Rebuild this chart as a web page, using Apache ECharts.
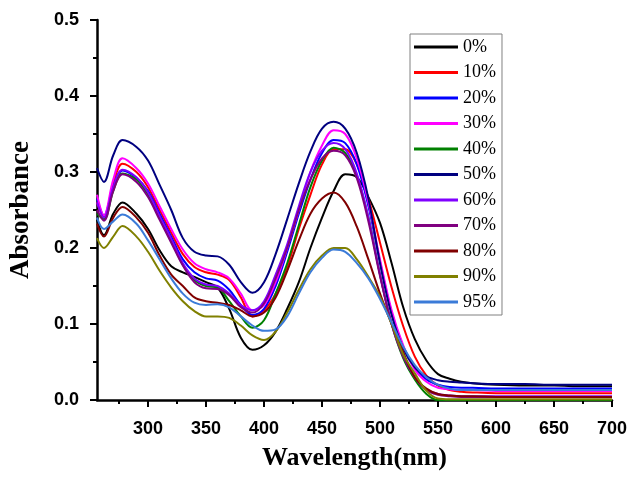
<!DOCTYPE html>
<html>
<head>
<meta charset="utf-8">
<script src="https://cdn.jsdelivr.net/npm/echarts@6/dist/echarts.min.js"></script>
<style>
html,body{margin:0;padding:0;background:#fff;}
#chart{width:630px;height:478px;}
</style>
</head>
<body>
<div id="chart"></div>
<script>
const wavelengths = [256, 262, 270, 278, 290, 300, 310, 320, 330, 340, 350, 360, 370, 380, 390, 400, 410, 420, 430, 440, 450, 460, 470, 480, 490, 500, 510, 520, 530, 540, 550, 560, 570, 580, 600, 625, 650, 675, 700];

const seriesNames = ['0%', '10%', '20%', '30%', '40%', '50%', '60%', '70%', '80%', '90%', '95%'];

const abs0 = [0.237,0.217,0.245,0.260,0.245,0.225,0.197,0.176,0.168,0.162,0.155,0.148,0.120,0.082,0.066,0.072,0.090,0.120,0.155,0.200,0.240,0.275,0.297,0.293,0.267,0.233,0.180,0.122,0.080,0.052,0.034,0.028,0.024,0.022,0.020,0.019,0.019,0.018,0.018];
const abs10 = [0.260,0.240,0.285,0.311,0.300,0.280,0.250,0.220,0.192,0.175,0.168,0.165,0.158,0.135,0.110,0.118,0.140,0.175,0.225,0.270,0.310,0.330,0.330,0.310,0.265,0.207,0.148,0.097,0.057,0.032,0.019,0.013,0.011,0.010,0.009,0.009,0.009,0.009,0.009];
const abs20 = [0.265,0.243,0.280,0.302,0.292,0.275,0.245,0.215,0.185,0.168,0.160,0.157,0.145,0.125,0.112,0.120,0.150,0.195,0.245,0.290,0.325,0.342,0.338,0.310,0.255,0.182,0.115,0.070,0.042,0.027,0.020,0.017,0.016,0.016,0.015,0.015,0.015,0.015,0.015];
const abs30 = [0.270,0.243,0.290,0.318,0.305,0.285,0.255,0.225,0.198,0.180,0.172,0.168,0.160,0.140,0.118,0.125,0.155,0.200,0.250,0.300,0.335,0.355,0.350,0.318,0.260,0.185,0.118,0.072,0.040,0.024,0.016,0.014,0.013,0.013,0.012,0.012,0.012,0.012,0.012];
const abs40 = [0.245,0.238,0.275,0.298,0.290,0.270,0.240,0.210,0.178,0.158,0.150,0.148,0.130,0.110,0.095,0.105,0.140,0.180,0.230,0.280,0.315,0.332,0.325,0.295,0.240,0.165,0.100,0.055,0.027,0.008,0.000,0.000,0.000,0.000,0.000,0.000,0.000,0.000,0.000];
const abs50 = [0.305,0.287,0.322,0.342,0.333,0.315,0.283,0.250,0.213,0.195,0.190,0.189,0.178,0.155,0.141,0.155,0.192,0.238,0.285,0.327,0.357,0.366,0.357,0.325,0.265,0.180,0.112,0.068,0.043,0.031,0.026,0.024,0.023,0.022,0.021,0.021,0.020,0.020,0.020];
const abs60 = [0.260,0.240,0.280,0.303,0.293,0.273,0.242,0.212,0.180,0.160,0.152,0.150,0.140,0.125,0.118,0.130,0.165,0.205,0.255,0.300,0.328,0.338,0.330,0.298,0.240,0.165,0.100,0.058,0.030,0.014,0.008,0.006,0.005,0.005,0.005,0.005,0.005,0.005,0.005];
const abs70 = [0.250,0.236,0.275,0.297,0.287,0.267,0.237,0.207,0.177,0.155,0.147,0.146,0.138,0.122,0.115,0.127,0.160,0.200,0.250,0.290,0.318,0.328,0.322,0.292,0.235,0.163,0.100,0.057,0.030,0.013,0.007,0.005,0.004,0.004,0.004,0.004,0.004,0.004,0.004];
const abs80 = [0.232,0.215,0.240,0.254,0.240,0.220,0.190,0.165,0.150,0.135,0.130,0.128,0.125,0.118,0.110,0.115,0.135,0.170,0.210,0.245,0.265,0.273,0.260,0.228,0.185,0.140,0.100,0.063,0.030,0.015,0.008,0.006,0.005,0.005,0.004,0.004,0.004,0.004,0.004];
const abs90 = [0.213,0.200,0.215,0.229,0.215,0.195,0.170,0.148,0.130,0.117,0.110,0.110,0.108,0.098,0.085,0.079,0.090,0.115,0.145,0.172,0.190,0.200,0.200,0.185,0.162,0.136,0.100,0.060,0.035,0.012,0.002,0.001,0.001,0.001,0.001,0.001,0.001,0.001,0.001];
const abs95 = [0.240,0.225,0.235,0.244,0.232,0.210,0.185,0.160,0.140,0.128,0.125,0.126,0.122,0.110,0.098,0.091,0.093,0.110,0.140,0.168,0.187,0.198,0.195,0.180,0.160,0.133,0.102,0.070,0.046,0.030,0.020,0.015,0.013,0.013,0.013,0.013,0.013,0.013,0.013];

const xMajorTicks = [300, 350, 400, 450, 500, 550, 600, 650, 700];
const xMinorTicks = [275, 325, 375, 425, 475, 525, 575, 625, 675];

const allValues = [abs0, abs10, abs20, abs30, abs40, abs50, abs60, abs70, abs80, abs90, abs95];
const colors = ['#000000', '#ff0000', '#0000ff', '#ff00ff', '#008000', '#000080', '#8000ff', '#800080', '#800000', '#808000', '#3b7bd8'];

const chart = echarts.init(document.getElementById('chart'), null, {renderer: 'canvas'});

const series = seriesNames.map((name, k) => ({
  name: name,
  type: 'line',
  xAxisIndex: 0,
  yAxisIndex: 0,
  data: wavelengths.map((w, i) => [w, allValues[k][i]]),
  showSymbol: false,
  symbol: 'none',
  smooth: 0.35,
  color: colors[k],
  lineStyle: {width: 2, color: colors[k]},
  itemStyle: {color: colors[k]},
  silent: true
}));

const option = {
  animation: false,
  backgroundColor: '#ffffff',
  grid: {left: 97, right: 18, top: 20, bottom: 78, containLabel: false, outerBoundsMode: 'none'},
  legend: {
    orient: 'vertical',
    left: 410,
    top: 34,
    data: seriesNames,
    icon: 'rect',
    itemWidth: 44,
    itemHeight: 3,
    itemGap: 7.5,
    padding: [4, 6, 4, 4],
    borderColor: '#808080',
    borderWidth: 1,
    selectedMode: false,
    textStyle: {fontFamily: '"Liberation Serif", "Times New Roman", serif', fontSize: 18, color: '#000', lineHeight: 16}
  },
  xAxis: [{
    type: 'value',
    min: 256,
    max: 700,
    position: 'bottom',
    name: 'Wavelength(nm)',
    nameLocation: 'middle',
    nameGap: 45,
    nameTextStyle: {fontFamily: '"Liberation Serif", "Times New Roman", serif', fontWeight: 'bold', fontSize: 26, color: '#000'},
    axisLine: {show: true, onZero: false, lineStyle: {color: '#000', width: 2.5}},
    axisTick: {show: true, length: 7, inside: false, customValues: xMajorTicks, lineStyle: {color: '#000', width: 2}},
    axisLabel: {show: true, customValues: xMajorTicks, margin: 20, fontFamily: '"Liberation Sans", Arial, sans-serif', fontWeight: 'bold', fontSize: 18, color: '#000'},
    splitLine: {show: false}
  }, {
    type: 'value',
    min: 256,
    max: 700,
    position: 'bottom',
    offset: 0,
    axisLine: {show: false},
    axisTick: {show: true, length: 4, inside: false, customValues: xMinorTicks, lineStyle: {color: '#000', width: 2}},
    axisLabel: {show: false},
    splitLine: {show: false}
  }],
  yAxis: {
    type: 'value',
    min: 0,
    max: 0.5,
    interval: 0.1,
    name: 'Absorbance',
    nameLocation: 'middle',
    nameGap: 62,
    nameRotate: 90,
    nameTextStyle: {fontFamily: '"Liberation Serif", "Times New Roman", serif', fontWeight: 'bold', fontSize: 27, color: '#000'},
    axisLine: {show: true, onZero: false, lineStyle: {color: '#000', width: 2.5}},
    axisTick: {show: true, length: 7, inside: false, lineStyle: {color: '#000', width: 2}},
    minorTick: {show: true, splitNumber: 2, length: 4, lineStyle: {color: '#000', width: 2}},
    axisLabel: {margin: 18, fontFamily: '"Liberation Sans", Arial, sans-serif', fontWeight: 'bold', fontSize: 18, color: '#000', formatter: v => v.toFixed(1)},
    splitLine: {show: false},
    minorSplitLine: {show: false}
  },
  series: series
};

chart.setOption(option);
</script>
</body>
</html>
